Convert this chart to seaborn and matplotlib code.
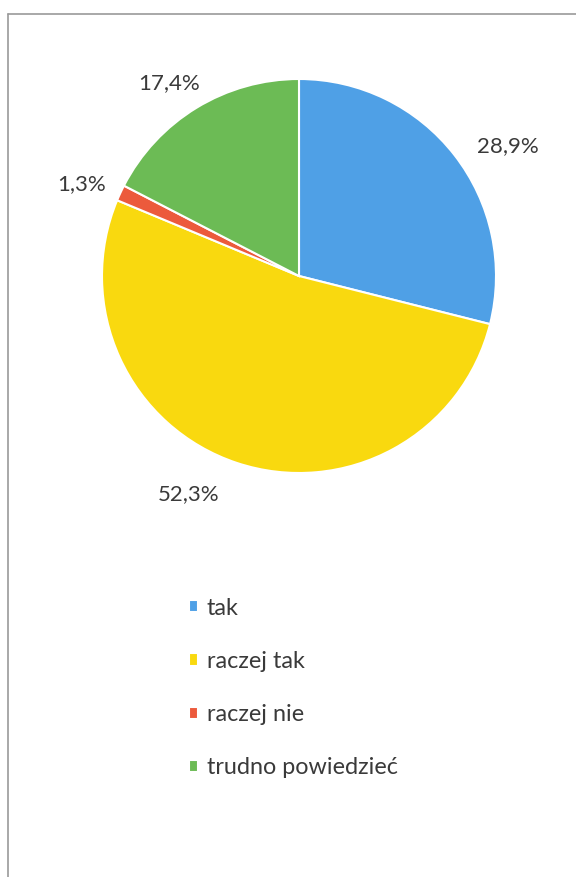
import numpy as np
import matplotlib
matplotlib.use('Agg')
import matplotlib.pyplot as plt
from matplotlib.lines import Line2D
import seaborn as sns

categories = ['tak', 'raczej tak', 'raczej nie', 'trudno powiedzieć']
shares = [28.9, 52.3, 1.3, 17.4]
colors = ['#4FA0E6', '#F9D90F', '#EC5A3C', '#6CBB55']

sns.set_theme(style='white')
plt.rcParams['font.family'] = ['Lato', 'DejaVu Sans']
text_color = '#3a3a3a'

fig = plt.figure(figsize=(5.76, 8.77), dpi=100)
fig.patch.set_facecolor('white')

# pie area: centre ~ (299, 276) px, radius ~197 px
W, H = 576, 877
cx, cy, r = 299, 276, 197
ax = fig.add_axes([(cx - r) / W, 1 - (cy + r) / H, 2 * r / W, 2 * r / H])

wedges, _ = ax.pie(shares, colors=colors, startangle=90, counterclock=False,
                   wedgeprops=dict(edgecolor='white', linewidth=1.5))
ax.set_xlim(-1, 1)
ax.set_ylim(-1, 1)
ax.set_aspect('equal')
ax.axis('off')

# outside data labels (angle shift, distance) tuned to the Excel-like layout
label_adjust = [(-6, 1.25), (-8.5, 1.24), (2, 1.2), (2.5, 1.18)]
for w, v, (da, dist) in zip(wedges, shares, label_adjust):
    ang = np.deg2rad((w.theta1 + w.theta2) / 2 + da)
    ax.text(dist * np.cos(ang), dist * np.sin(ang),
            f'{v:.1f}'.replace('.', ',') + '%',
            ha='center', va='center', fontsize=16, color=text_color)

leg = fig.legend(wedges, categories, loc='upper left',
                 bbox_to_anchor=(177 / W, 1 - 586 / H), frameon=False,
                 fontsize=16.8, handlelength=0.42, handleheight=0.42,
                 handletextpad=0.35, labelspacing=1.38, borderpad=0)
for t in leg.get_texts():
    t.set_color(text_color)

# scanned frame: top and left edges only
fig.add_artist(Line2D([8 / W, 8 / W], [0, 1 - 14 / H], color='#9a9a9a', lw=1.2))
fig.add_artist(Line2D([8 / W, 1], [1 - 14 / H, 1 - 14 / H], color='#9a9a9a', lw=1.2))

fig.savefig('out.png', dpi=100, facecolor='white')
